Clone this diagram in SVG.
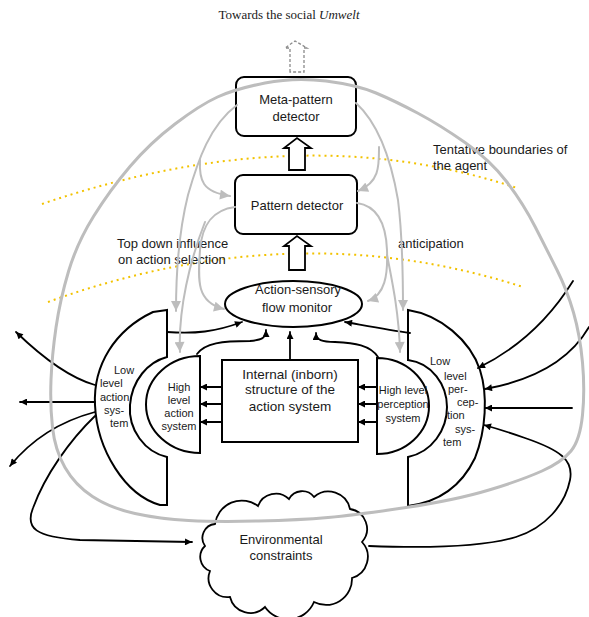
<svg xmlns="http://www.w3.org/2000/svg" width="589" height="617" viewBox="0 0 589 617">
<style>
.t{font-family:"Liberation Sans",Arial,sans-serif;fill:#1a1a1a}
.m{text-anchor:middle}
.s11{font-size:11px}
.s13{font-size:13px}
.box{fill:#fff;stroke:#000;stroke-width:2}
.blk{fill:none;stroke:#000;stroke-width:1.8;stroke-linecap:round;stroke-linejoin:round}
.ba{marker-end:url(#ab)}
.gry{fill:none;stroke:#bdbdbd;stroke-width:2;stroke-linecap:round;marker-end:url(#ag)}
.yel{fill:none;stroke:#f2c200;stroke-width:2;stroke-dasharray:2 4}
.hol{fill:#fff;stroke:#000;stroke-width:1.8;stroke-linejoin:miter}
</style>
<defs>
<marker id="ab" viewBox="0 0 10 10" refX="10" refY="5" markerWidth="8" markerHeight="7" markerUnits="userSpaceOnUse" orient="auto"><path d="M0,0 L10,5 L0,10 z" fill="#000"/></marker>
<marker id="ag" viewBox="0 0 10 10" refX="10" refY="5" markerWidth="12" markerHeight="10" markerUnits="userSpaceOnUse" orient="auto"><path d="M0,0 L10,5 L0,10 z" fill="#bdbdbd"/></marker>
</defs>
<rect width="589" height="617" fill="#fff"/>

<g id="title"><text x="289" y="19" text-anchor="middle" style="font-family:'Liberation Serif','Times New Roman',serif;font-size:13px;fill:#1a1a1a">Towards the social <tspan font-style="italic">Umwelt</tspan></text></g>

<g id="boundaries">
<path class="yel" d="M42,204 Q300,116 517,188"/>
<path class="yel" d="M48,302 Q294,213 523,287"/>
</g>

<g id="meta-pattern-detector">
<rect class="box" x="236" y="77" width="120" height="59" rx="8"/>
<text class="t s13 m" x="296" y="104">Meta-pattern</text>
<text class="t s13 m" x="296" y="121">detector</text>
</g>

<g id="pattern-detector">
<rect class="box" x="235" y="175" width="122" height="59" rx="8"/>
<text class="t s13 m" x="297" y="210">Pattern detector</text>
</g>

<g id="flow-monitor">
<ellipse class="box" cx="293.5" cy="304" rx="68.5" ry="23"/>
<text class="t s13 m" x="298" y="294">Action-sensory</text>
<text class="t s13 m" x="297" y="312">flow monitor</text>
</g>

<g id="internal-structure">
<rect class="box" x="222" y="360" width="136" height="82"/>
<text class="t m" style="font-size:13.5px" x="290" y="379">Internal (inborn)</text>
<text class="t m" style="font-size:13.5px" x="290" y="394">structure of the</text>
<text class="t m" style="font-size:13.5px" x="290" y="411">action system</text>
</g>

<g id="low-level-action">
<path class="box" d="M167,310 L153,312 C115,330 93,365 95,405 C97,450 125,495 160,505 L167,505 L167,457 C145,452 128,430 130,405 C132,380 148,362 167,357 Z"/>
<text class="t s11" x="114" y="374">Low</text>
<text class="t s11" x="100" y="387">level</text>
<text class="t s11" x="100" y="401">action</text>
<text class="t s11" x="104" y="414">sys-</text>
<text class="t s11" x="110" y="427">tem</text>
</g>

<g id="high-level-action">
<path class="box" d="M200,356 L200,453 A54,48.5 0 0 1 200,356 Z"/>
<text class="t s11 m" x="179" y="391">High</text>
<text class="t s11 m" x="179" y="404">level</text>
<text class="t s11 m" x="179" y="417">action</text>
<text class="t s11 m" x="179" y="430">system</text>
</g>

<g id="high-level-perception">
<path class="box" d="M377,358 L377,454 A52,48 0 0 0 377,358 Z"/>
<text class="t s11 m" x="403" y="394">High level</text>
<text class="t s11 m" x="403" y="408">perception</text>
<text class="t s11 m" x="403" y="422">system</text>
</g>

<g id="low-level-perception">
<path class="box" d="M408,310 C440,315 470,340 480,370 C488,395 486,430 475,458 C462,485 440,502 408,506 L408,457 C432,452 447,430 447,407 C447,385 432,363 408,360 Z"/>
<text class="t s11" x="430" y="365">Low</text>
<text class="t s11" x="444" y="380">level</text>
<text class="t s11" x="448" y="393">per-</text>
<text class="t s11" x="457" y="406">cep-</text>
<text class="t s11" x="447" y="419">tion</text>
<text class="t s11" x="455" y="433">sys-</text>
<text class="t s11" x="443" y="446">tem</text>
</g>

<g id="environmental-constraints">
<path class="box" style="stroke-width:1.8" d="M215,524 A27,27 0 0 1 258,506 A19,19 0 0 1 289,499 A15,15 0 0 1 314,497 A22,22 0 0 1 350,509 A20,20 0 0 1 362,542 A22,22 0 0 1 352,578 A26,26 0 0 1 314,602 A28,28 0 0 1 265,607 A21,21 0 0 1 230,597 A19,19 0 0 1 210,571 A15,15 0 0 1 205,546 A14,14 0 0 1 215,524 Z"/>
<text class="t s13 m" x="281" y="544">Environmental</text>
<text class="t s13 m" x="281" y="560">constraints</text>
</g>

<g id="labels">
<text class="t s13" x="117" y="248">Top down influence</text>
<text class="t s13" x="118" y="264">on action selection</text>
<text class="t s13" x="398" y="248">anticipation</text>
<text class="t s13" x="433" y="154">Tentative boundaries of</text>
<text class="t s13" x="433" y="170">the agent</text>
</g>

<g id="connectors">
<!-- hollow arrows -->
<path d="M290,72 L290,48 L285,48 L295,41 L307,48 L304,48 L304,72 Z" fill="none" stroke="#8a8a8a" stroke-width="1.3" stroke-dasharray="3 2"/>
<path class="hol" d="M289,170 L289,148 L284,148 L297,138 L311,148 L305,148 L305,170 Z"/>
<path class="hol" d="M289,270 L289,246 L284,246 L297,236 L311,246 L305,246 L305,270 Z"/>

<!-- black arrows into the flow monitor -->
<path class="blk ba" d="M167,332 C195,334 215,332 242,322"/>
<path class="blk ba" d="M197,354 C205,343 222,341 250,341 C262,340 266,338 266,330"/>
<path class="blk ba" d="M290,360 L290,332"/>
<path class="blk ba" d="M378,357 C370,345 355,343 335,342 C322,342 316,340 316,333"/>
<path class="blk ba" d="M410,333 C390,330 368,326 345,322"/>

<!-- internal structure to high level action -->
<path class="blk ba" d="M222,387 L200,387"/>
<path class="blk ba" d="M222,404 L200,404"/>
<path class="blk ba" d="M222,422 L200,422"/>
<!-- high level perception to internal structure -->
<path class="blk ba" d="M377,387 L358,387"/>
<path class="blk ba" d="M377,404 L358,404"/>
<path class="blk ba" d="M377,422 L358,422"/>

<!-- outputs of low level action -->
<path class="blk ba" d="M95,385 C70,378 45,360 16,332"/>
<path class="blk ba" d="M95,402 L20,402"/>
<path class="blk ba" d="M95,412 C65,420 35,435 10,466"/>
<path class="blk ba" d="M95,416 C70,440 45,475 33,508 C25,528 35,537 80,540 L192,542"/>

<!-- inputs of low level perception -->
<path class="blk ba" d="M573,281 C555,310 525,345 478,368"/>
<path class="blk ba" d="M589,327 C570,360 535,380 485,389"/>
<path class="blk ba" d="M572,408 L485,408"/>
<path class="blk ba" d="M369,546 C420,548 480,548 516,537 C545,528 565,505 570,480 C574,460 560,450 525,438 C505,431 495,428 484,425"/>

<!-- gray top-down and anticipation arrows -->
<path class="gry" d="M237,105 C210,125 198,160 188,195 C178,235 176,280 176,311"/>
<path class="gry" d="M200,160 C199,180 202,192 230,196"/>
<path class="gry" d="M235,207 C212,210 202,225 200,250 C198,280 196,302 224,309"/>
<path class="gry" d="M205,222 C190,260 178,310 180,352"/>
<path class="gry" d="M356,103 C380,125 392,165 398,200 C403,240 403,280 403,310"/>
<path class="gry" d="M379,147 C379,165 380,182 358,191"/>
<path class="gry" d="M357,203 C378,206 386,225 387,250 C388,275 385,295 368,301"/>
<path class="gry" d="M387,255 C393,285 399,315 400,352"/>
</g>

<g id="agent-boundary">
<path fill="none" stroke="#bdbdbd" stroke-width="3" d="M265,83 Q295,77 326,81 Q357,85 376,93 Q395,101 417.5,113 Q440,125 465,142.5 Q490,160 506.5,181.5 Q523,203 535,226.5 Q547,250 557,270 Q567,290 573.5,312.5 Q580,335 582.5,362.5 Q585,390 582.5,415 Q580,440 571,451 Q562,462 542,471 Q522,480 489,490 Q456,500 406,507.5 Q356,515 328,517.5 Q300,520 258.5,521 Q217,522 188.5,520.5 Q160,519 135,513.5 Q110,508 92.5,496.5 Q75,485 65,467.5 Q55,450 52.5,427.5 Q50,405 51,380 Q52,355 56,327.5 Q60,300 68.5,271.5 Q77,243 93.5,216.5 Q110,190 130,166.5 Q150,143 175,124 Q200,105 217.5,97 Q235,89 265,83 Z"/>
</g>
</svg>
